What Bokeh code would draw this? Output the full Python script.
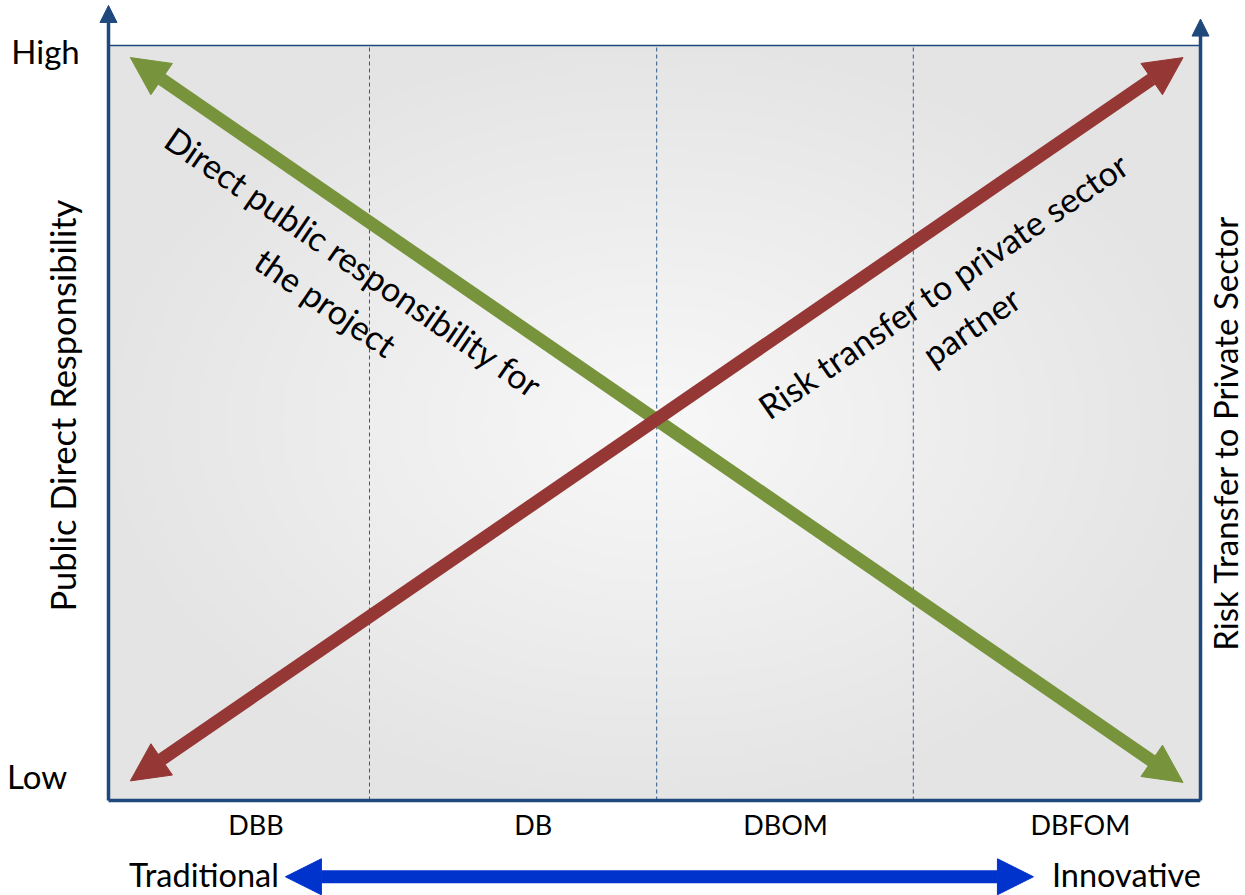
import numpy as np
from bokeh.plotting import figure
from bokeh.models import Range1d, Arrow, NormalHead
from bokeh.core.properties import value
from bokeh.embed import file_html
from bokeh.resources import INLINE

# ---- chart content (conceptual 0-100 scale) ----
categories = ["DBB", "DB", "DBOM", "DBFOM"]
category_x = [13.5, 38.9, 62.0, 89.0]
dividers_x = [23.9, 50.2, 73.7]
level_labels = ["High", "Low"]
level_x = [-8.9, -9.3]
level_y = [99.3, 3.2]
arrow_x = [2.0, 98.4]
public_responsibility = [98.4, 2.4]
risk_transfer = [2.6, 98.4]
scale_labels = ["Traditional", "Innovative"]
scale_label_x = [15.6, 86.4]
scale_arrow_x = [16.2, 84.7]
left_title = "Public Direct Responsibility"
right_title = "Risk Transfer to Private Sector"
green_note = "Direct public responsibility for\nthe project"
red_note = "Risk transfer to private sector\npartner"

FONT = value("Lato")
AXIS_C = "#1F497D"
GREEN = "#77933C"
RED = "#953735"
BLUE = "#0033CC"

p = figure(width=1245, height=895,
           x_range=Range1d(-9.89, 104.12), y_range=Range1d(-12.58, 105.96),
           x_axis_location=None, y_axis_location=None,
           min_border=0, output_backend="svg", toolbar_location=None)
p.grid.visible = False
p.outline_line_color = None
p.background_fill_color = "white"
p.border_fill_color = "white"

# background gradient (radial, lighter centre)
nx, ny = 240, 180
gx = np.linspace(-1, 1, nx)
gy = np.linspace(-1, 1, ny)
GX, GY = np.meshgrid(gx, gy)
r = np.clip(np.sqrt(GX**2 + GY**2) / 1.05, 0, 1)
c = (248 - (248 - 228) * r).astype(np.uint32)
img = np.empty((ny, nx), dtype=np.uint32)
view = img.view(dtype=np.uint8).reshape((ny, nx, 4))
view[:, :, 0] = c
view[:, :, 1] = c
view[:, :, 2] = c
view[:, :, 3] = 255
p.image_rgba(image=[img], x=0, y=0, dw=100, dh=100)

# dashed dividers
p.segment(x0=dividers_x, y0=0, x1=dividers_x, y1=100,
          line_color="#2E5C8A", line_width=1, line_dash="4 3")

# top border line
p.segment(x0=0, y0=100, x1=100, y1=100, line_color=AXIS_C, line_width=1.5)
# bottom axis
p.segment(x0=0, y0=0, x1=100, y1=0, line_color=AXIS_C, line_width=3.5)
# vertical axes with arrow heads
p.add_layout(Arrow(end=NormalHead(size=17, fill_color=AXIS_C, line_color=AXIS_C),
                   x_start=0, y_start=0, x_end=0, y_end=105.3,
                   line_color=AXIS_C, line_width=3.5))
p.add_layout(Arrow(end=NormalHead(size=17, fill_color=AXIS_C, line_color=AXIS_C),
                   x_start=100, y_start=0, x_end=100, y_end=103.5,
                   line_color=AXIS_C, line_width=3.5))

# main double arrows
p.add_layout(Arrow(start=NormalHead(size=38, fill_color=GREEN, line_color=GREEN),
                   end=NormalHead(size=38, fill_color=GREEN, line_color=GREEN),
                   x_start=arrow_x[0], y_start=public_responsibility[0],
                   x_end=arrow_x[1], y_end=public_responsibility[1],
                   line_color=GREEN, line_width=13))
p.add_layout(Arrow(start=NormalHead(size=38, fill_color=RED, line_color=RED),
                   end=NormalHead(size=38, fill_color=RED, line_color=RED),
                   x_start=arrow_x[0], y_start=risk_transfer[0],
                   x_end=arrow_x[1], y_end=risk_transfer[1],
                   line_color=RED, line_width=13))

# bottom Traditional <-> Innovative arrow
p.add_layout(Arrow(start=NormalHead(size=36, fill_color=BLUE, line_color=BLUE),
                   end=NormalHead(size=36, fill_color=BLUE, line_color=BLUE),
                   x_start=scale_arrow_x[0], y_start=-10.1,
                   x_end=scale_arrow_x[1], y_end=-10.1,
                   line_color=BLUE, line_width=13))

# texts
p.text(x=category_x, y=[-3.2] * 4, text=categories, text_font=FONT,
       text_font_size="27px", text_align="center", text_baseline="middle",
       text_color="black")
p.text(x=level_x, y=level_y, text=level_labels, text_font=FONT,
       text_font_size="33px", text_align="left", text_baseline="middle",
       text_color="black")
p.text(x=[scale_label_x[0]], y=[-9.75], text=[scale_labels[0]], text_font=FONT,
       text_font_size="32.5px", text_align="right", text_baseline="middle",
       text_color="black")
p.text(x=[scale_label_x[1]], y=[-9.75], text=[scale_labels[1]], text_font=FONT,
       text_font_size="32.5px", text_align="left", text_baseline="middle",
       text_color="black")
p.text(x=[-4.2], y=[52.3], text=[left_title], angle=np.pi / 2, text_font=FONT,
       text_font_size="34.5px", text_align="center", text_baseline="middle",
       text_color="black")
p.text(x=[102.2], y=[48.7], text=[right_title], angle=np.pi / 2, text_font=FONT,
       text_font_size="33px", text_align="center", text_baseline="middle",
       text_color="black")

ang = np.arctan2(725, 1053)
p.text(x=[21.2], y=[68.7], text=[green_note], angle=-ang, text_font=FONT,
       text_font_size="34px", text_align="center", text_baseline="middle",
       text_color="black")
p.text(x=[77.7], y=[65.6], text=[red_note], angle=ang, text_font=FONT,
       text_font_size="34px", text_align="center", text_baseline="middle",
       text_color="black")

open("out.html", "w").write(file_html(p, INLINE))
